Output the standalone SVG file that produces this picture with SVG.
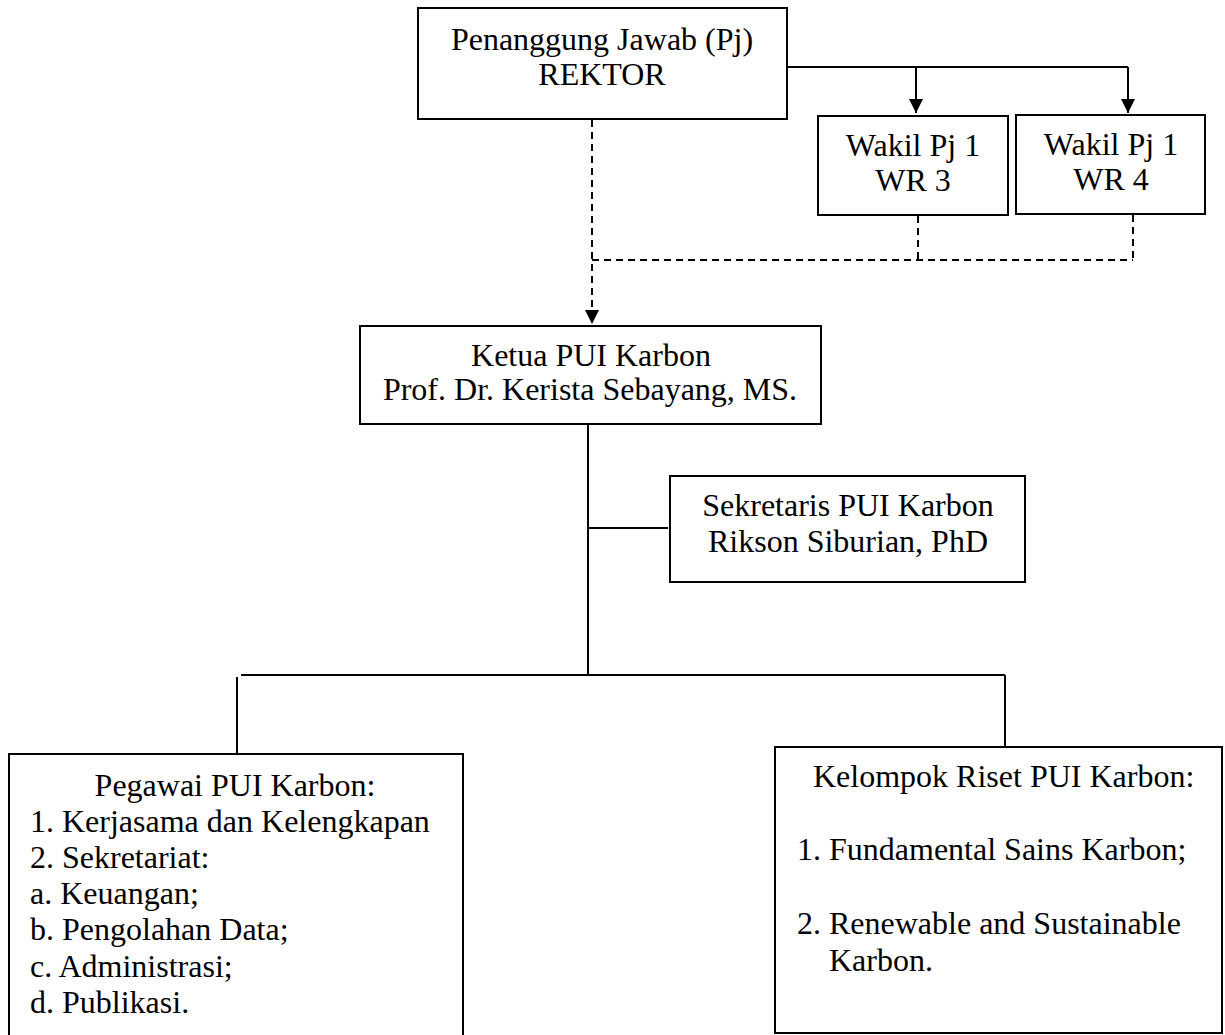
<svg xmlns="http://www.w3.org/2000/svg" width="1225" height="1035" viewBox="0 0 1225 1035">
<style>
.box{fill:#fff;stroke:#000;stroke-width:2}
.t{font-family:"Liberation Serif","Times New Roman",serif;font-size:32px;fill:#000}
.c{text-anchor:middle}
.ln{fill:none;stroke:#000;stroke-width:2}
.dash{fill:none;stroke:#000;stroke-width:2;stroke-dasharray:7 5}
</style>
<defs>
<marker id="ah" viewBox="0 0 10 10" refX="10" refY="5" markerWidth="14" markerHeight="14" markerUnits="userSpaceOnUse" orient="auto">
<path d="M0,0 L10,5 L0,10 z" fill="#000"/>
</marker>
</defs>
<rect width="1225" height="1035" fill="#fff"/>
<g id="connectors">
<path class="ln" d="M787,67 H1128"/>
<path class="ln" d="M916,67 V113" marker-end="url(#ah)"/>
<path class="ln" d="M1128,67 V113" marker-end="url(#ah)"/>
<path class="dash" d="M592,120 V324" marker-end="url(#ah)"/>
<path class="dash" d="M592,260 H1133"/>
<path class="dash" d="M918,216 V260"/>
<path class="dash" d="M1133,215 V260"/>
<path class="ln" d="M588,424 V675"/>
<path class="ln" d="M588,528 H668"/>
<path class="ln" d="M241,675 H1005"/>
<path class="ln" d="M237,677 V754"/>
<path class="ln" d="M1005,675 V747"/>
</g>
<g id="rektor">
<rect class="box" x="418" y="8" width="369" height="111"/>
<text class="t c" x="602" y="50">Penanggung Jawab (Pj)</text>
<text class="t c" x="602" y="85">REKTOR</text>
</g>
<g id="wakil-wr3">
<rect class="box" x="818" y="116" width="190" height="99"/>
<text class="t c" x="913" y="156">Wakil Pj 1</text>
<text class="t c" x="913" y="191">WR 3</text>
</g>
<g id="wakil-wr4">
<rect class="box" x="1016" y="115" width="189" height="99"/>
<text class="t c" x="1111" y="155">Wakil Pj 1</text>
<text class="t c" x="1111" y="190">WR 4</text>
</g>
<g id="ketua">
<rect class="box" x="360" y="326" width="461" height="98"/>
<text class="t c" x="591" y="366">Ketua PUI Karbon</text>
<text class="t c" x="590" y="400">Prof. Dr. Kerista Sebayang, MS.</text>
</g>
<g id="sekretaris">
<rect class="box" x="670" y="476" width="355" height="106"/>
<text class="t c" x="848" y="516">Sekretaris PUI Karbon</text>
<text class="t c" x="848" y="552">Rikson Siburian, PhD</text>
</g>
<g id="pegawai">
<rect class="box" x="9" y="754" width="454" height="290"/>
<text class="t c" x="235" y="796">Pegawai PUI Karbon:</text>
<text class="t" x="30" y="832">1. Kerjasama dan Kelengkapan</text>
<text class="t" x="30" y="868">2. Sekretariat:</text>
<text class="t" x="30" y="904">a. Keuangan;</text>
<text class="t" x="30" y="940">b. Pengolahan Data;</text>
<text class="t" x="30" y="977">c. Administrasi;</text>
<text class="t" x="30" y="1013">d. Publikasi.</text>
</g>
<g id="kelompok">
<rect class="box" x="775" y="747" width="447" height="286"/>
<text class="t" x="813" y="787">Kelompok Riset PUI Karbon:</text>
<text class="t" x="797" y="860">1. Fundamental Sains Karbon;</text>
<text class="t" x="797" y="934">2. Renewable and Sustainable</text>
<text class="t" x="829" y="971">Karbon.</text>
</g>
</svg>
